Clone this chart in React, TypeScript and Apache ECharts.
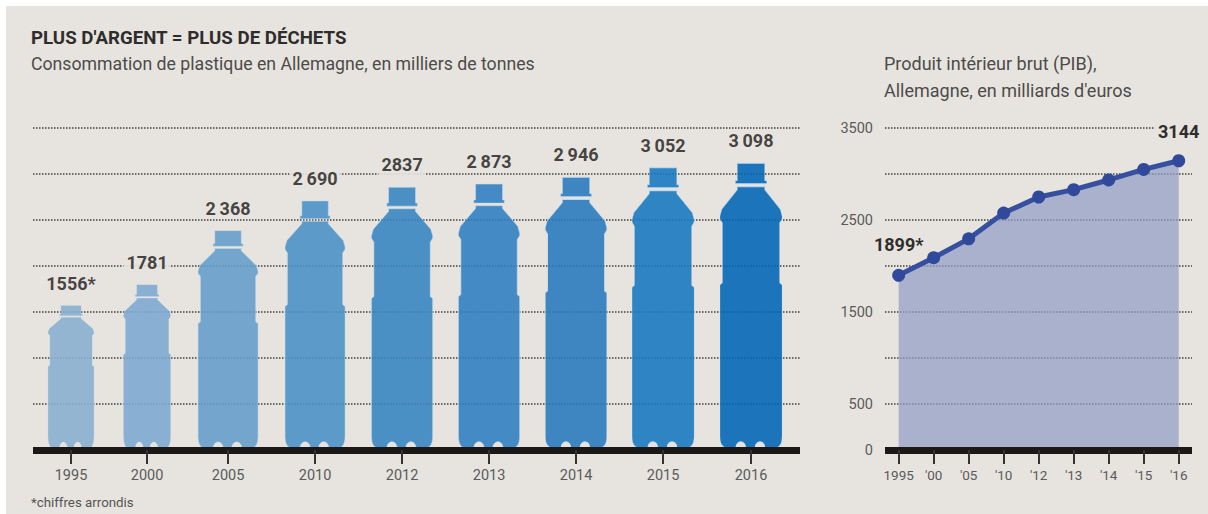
import { useEffect, useRef } from "react";
import * as echarts from "echarts";

// Plastic consumption in Germany, thousands of tonnes
const plasticYears = ["1995", "2000", "2005", "2010", "2012", "2013", "2014", "2015", "2016"];
const plasticValues = [1556, 1781, 2368, 2690, 2837, 2873, 2946, 3052, 3098];
const plasticLabels = ["1556*", "1781", "2\u2009368", "2\u2009690", "2837", "2\u2009873", "2\u2009946", "3\u2009052", "3\u2009098"];

// German GDP, billions of euros
const gdpYears = ["1995", "'00", "'05", "'10", "'12", "'13", "'14", "'15", "'16"];
const gdpValues = [1899, 2090, 2295, 2575, 2750, 2830, 2935, 3050, 3144];

// The bottle row is not evenly spaced: the early years sit closer together
const bottleSlots = [0, 0.874, 1.805, 2.805, 3.805, 4.805, 5.805, 6.805, 7.816];
const bottleWidths = [46, 47, 60, 60, 61, 61, 61, 62, 62];
const bottleColors = ["#87aed0", "#7ca8d0", "#649cca", "#4990c6", "#3684c2", "#2d7dc0", "#2579be", "#1677c0", "#0065b5"];

const PANEL = "#e7e4df";
const FONT = "Roboto";
const PX_PER_UNIT = 322 / 3500;

// Bottle outline in a 100 x 1000 box; the foot keeps its pixel size whatever the bottle's height
function bottlePath(value: number): string {
  const h = value * PX_PER_UNIT;
  const r = (12 / h) * 1000;
  const b = 1000 - (9 / h) * 1000;
  return (
    "path://M28 0L72 0L72 60L75 60L75 72L25 72L25 60L28 60Z" +
    "M28 82L72 82L72 92L97 160L100 185L100 195L96 210L96 418L100 426" +
    `L100 ${1000 - r}Q100 1000 86 1000L73 1000C73 ${b} 56 ${b} 56 1000L42 1000C42 ${b} 25 ${b} 25 1000L14 1000Q0 1000 0 ${1000 - r}` +
    "L0 426L4 418L4 210L0 195L0 185L3 160L28 92Z"
  );
}

const gridLine = {
  show: true,
  lineStyle: { color: "#6b6966", width: 2, type: [1.5, 1.5] as number[] },
};

const baseLine = { show: true, onZero: true, lineStyle: { color: "#1b1817", width: 7, cap: "butt" } };

function buildOption() {
  return {
    animation: false,
    textStyle: { fontFamily: FONT },
    title: [
      {
        text: "PLUS D'ARGENT = PLUS DE DÉCHETS",
        left: 26,
        top: 23,
        textStyle: { fontFamily: FONT, fontSize: 18.7, fontWeight: "bold", color: "#2f2d2c" },
      },
      {
        text: "Consommation de plastique en Allemagne, en milliers de tonnes",
        left: 26,
        top: 50,
        textStyle: { fontFamily: FONT, fontSize: 17.7, fontWeight: "normal", color: "#4d4b4a" },
      },
      {
        text: "Produit intérieur brut (PIB),",
        left: 879,
        top: 49,
        textStyle: { fontFamily: FONT, fontSize: 18, fontWeight: "normal", color: "#4d4b4a" },
      },
      {
        text: "Allemagne, en milliards d'euros",
        left: 879,
        top: 76,
        textStyle: { fontFamily: FONT, fontSize: 18, fontWeight: "normal", color: "#4d4b4a" },
      },
      {
        text: "*chiffres arrondis",
        left: 26,
        top: 491,
        textStyle: { fontFamily: FONT, fontSize: 13.3, fontWeight: "normal", color: "#555" },
      },
    ],
    grid: [
      { left: 33, top: 128, width: 767, height: 322 },
      { left: 885, top: 128, width: 307, height: 322 },
    ],
    xAxis: [
      {
        type: "value",
        gridIndex: 0,
        z: 5,
        min: -0.437,
        max: 8.379,
        splitLine: { show: false },
        axisLine: baseLine,
        axisTick: { show: true, customValues: bottleSlots, length: 14, lineStyle: { color: "#333", width: 2 } },
        axisLabel: {
          customValues: bottleSlots,
          margin: 18,
          fontFamily: FONT,
          fontSize: 14.5,
          color: "#5a5a5a",
          formatter: (v: number) => plasticYears[bottleSlots.indexOf(v)] ?? "",
        },
      },
      {
        type: "value",
        gridIndex: 1,
        z: 5,
        min: -0.39,
        max: 8.38,
        splitLine: { show: false },
        axisLine: baseLine,
        axisTick: { show: true, customValues: gdpYears.map((_, i) => i), length: 14, lineStyle: { color: "#333", width: 2 } },
        axisLabel: {
          customValues: gdpYears.map((_, i) => i),
          margin: 18,
          fontFamily: FONT,
          fontSize: 13.5,
          color: "#5a5a5a",
          formatter: (v: number) => gdpYears[v] ?? "",
        },
      },
    ],
    yAxis: [
      {
        type: "value",
        gridIndex: 0,
        min: 0,
        max: 3500,
        interval: 500,
        axisLine: { show: false },
        axisTick: { show: false },
        axisLabel: { show: false },
        splitLine: gridLine,
      },
      {
        type: "value",
        gridIndex: 1,
        min: 0,
        max: 3500,
        interval: 500,
        axisLine: { show: false },
        axisTick: { show: false },
        splitLine: gridLine,
        axisLabel: {
          margin: 12,
          fontFamily: FONT,
          fontSize: 14.5,
          color: "#5a5a5a",
          formatter: (v: number) => ([0, 500, 1500, 2500, 3500].includes(v) ? String(v) : ""),
        },
      },
    ],
    series: [
      {
        type: "pictorialBar",
        xAxisIndex: 0,
        yAxisIndex: 0,
        z: 3,
        data: plasticValues.map((value, i) => ({
          value: [bottleSlots[i], value],
          symbol: bottlePath(value),
          symbolSize: [bottleWidths[i], "100%"],
          itemStyle: {
            color: bottleColors[i],
            opacity: 0.88,
            borderColor: "#c4dbec",
            borderWidth: 1.5,
          },
          label: {
            show: true,
            position: "top",
            distance: 11,
            formatter: plasticLabels[i],
            fontFamily: FONT,
            fontSize: 18,
            fontWeight: "bold",
            color: "#2f2d2c",
            backgroundColor: PANEL,
            padding: [1, 3],
          },
        })),
      },
      {
        type: "line",
        xAxisIndex: 1,
        yAxisIndex: 1,
        z: 3,
        data: gdpValues.map((value, i) => ({
          value: [i, value],
          label:
            i === 0 || i === gdpValues.length - 1
              ? {
                  show: true,
                  position: "top",
                  distance: i === 0 ? 14 : 13,
                  formatter: i === 0 ? "1899*" : "3144",
                  fontFamily: FONT,
                  fontSize: 18,
                  fontWeight: "bold",
                  color: "#2f2d2c",
                  backgroundColor: PANEL,
                  padding: [1, 3],
                }
              : { show: false },
        })),
        symbol: "circle",
        symbolSize: 13,
        showSymbol: true,
        showAllSymbol: true,
        lineStyle: { color: "#36509f", width: 5 },
        itemStyle: { color: "#30499b" },
        areaStyle: { color: "#929dc5", opacity: 0.72 },
      },
    ],
  };
}

export default function App() {
  const ref = useRef<HTMLDivElement>(null);

  useEffect(() => {
    const chart = echarts.init(ref.current!, null, { renderer: "svg" });
    chart.setOption(buildOption() as any);
    return () => chart.dispose();
  }, []);

  return (
    <div style={{ position: "fixed", left: 0, top: 0, width: 1208, height: 514, background: "#fff" }}>
      <div style={{ position: "absolute", left: 6, top: 6, width: 1202, height: 508, background: PANEL }} />
      <div ref={ref} style={{ position: "absolute", left: 0, top: 0, width: 1208, height: 514 }} />
    </div>
  );
}
